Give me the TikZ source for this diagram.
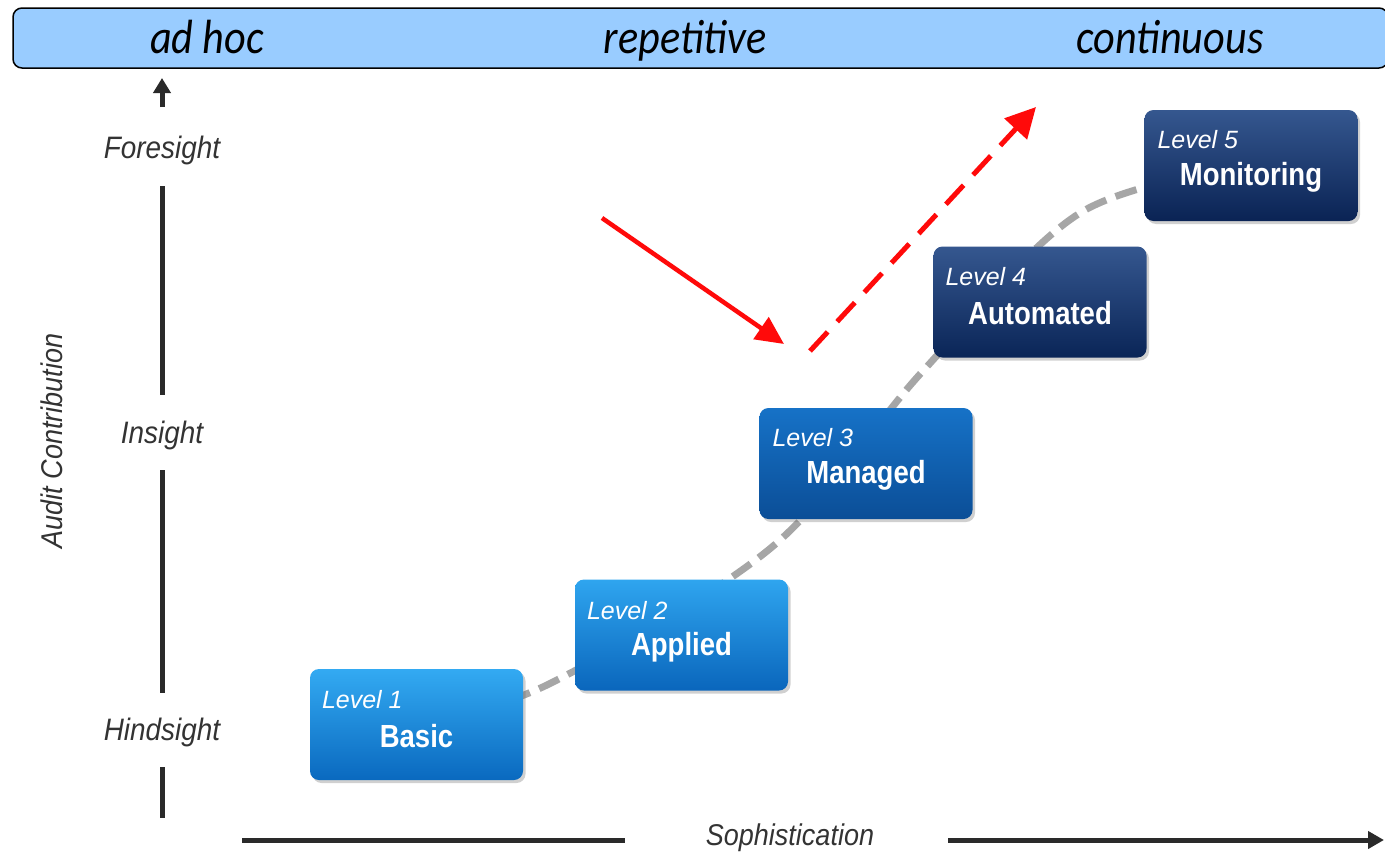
\documentclass[tikz,border=0pt]{standalone}
\usepackage{fontspec}
\setmainfont{Liberation Sans}
\newfontfamily\bannerfont[FakeStretch=0.88]{Carlito}
\newfontfamily\axisfont[FakeStretch=0.9]{Liberation Sans}
\newfontfamily\namefont[FakeStretch=0.86]{Liberation Sans}
\usetikzlibrary{arrows.meta,shadows,calc}
\pgfdeclarelayer{bg}
\pgfsetlayers{bg,main}
\definecolor{bannerblue}{HTML}{99CCFF}
\definecolor{axisgray}{HTML}{2A2A2A}
\definecolor{labelgray}{HTML}{333333}
\definecolor{curvegray}{HTML}{A6A6A6}
\definecolor{arrowred}{HTML}{FF0A0A}
\definecolor{lAtop}{HTML}{33AAF2}\definecolor{lAbot}{HTML}{0A69BF}
\definecolor{lBtop}{HTML}{2FA5EF}\definecolor{lBbot}{HTML}{0A66BC}
\definecolor{lCtop}{HTML}{1672C7}\definecolor{lCbot}{HTML}{0B4E97}
\definecolor{lDtop}{HTML}{35578F}\definecolor{lDbot}{HTML}{0A2557}
\definecolor{lEtop}{HTML}{35578F}\definecolor{lEbot}{HTML}{0A2354}
\tikzset{
  levelbox/.style={rounded corners=9pt, minimum width=213pt, minimum height=111pt,
    inner sep=0pt, draw=none, drop shadow={shadow xshift=2.5pt, shadow yshift=-3pt, opacity=0.3, fill=black!60}},
  lvltext/.style={anchor=west, inner sep=0pt, text=white, font=\fontsize{25}{30}\selectfont\itshape},
  nametext/.style={inner sep=0pt, text=white, font=\fontsize{32}{38}\selectfont\namefont\bfseries},
  axislabel/.style={inner sep=0pt, text=labelgray, font=\fontsize{31}{37}\selectfont\axisfont\itshape},
  bannertext/.style={inner sep=0pt, anchor=base, text=black, font=\fontsize{48}{56}\selectfont\bannerfont\itshape},
  axisline/.style={draw=axisgray, line width=5pt},
  greycurve/.style={draw=curvegray, line width=7pt, dash pattern=on 22pt off 10pt},
  redsolid/.style={draw=arrowred, line width=4.5pt, -{Triangle[length=28pt,width=26pt]}},
  reddash/.style={draw=arrowred, line width=5pt, dash pattern=on 26pt off 14pt, -{Triangle[length=30pt,width=30pt]}}
}
\begin{document}
\begin{tikzpicture}[x=1pt,y=-1pt]
\useasboundingbox (0,0) rectangle (1385,857);

% banner
\node[draw=black, line width=1.5pt, fill=bannerblue, rounded corners=9pt, minimum width=1375pt, minimum height=60pt, inner sep=0pt] (banner) at (700.5,38) {};
\node[bannertext] (adhoc) at (207,53) {ad hoc};
\node[bannertext] (repet) at (685,53) {repetitive};
\node[bannertext] (contin) at (1170,53) {continuous};

% vertical axis
\node[axislabel] (fore) at (162,150) {Foresight};
\node[axislabel] (ins) at (162,435) {Insight};
\node[axislabel] (hind) at (162,732) {Hindsight};
\node[axislabel, font=\fontsize{30}{36}\selectfont\axisfont\itshape, rotate=90] (audit) at (52,441) {Audit Contribution};
\coordinate (vtop) at (162,78);
\coordinate (vtopstart) at (162,107);
\coordinate (v1a) at (162,186);
\coordinate (v1b) at (162,395);
\coordinate (v2a) at (162,470);
\coordinate (v2b) at (162,693);
\coordinate (v3a) at (162,767);
\coordinate (v3b) at (162,818);
\draw[axisline, -{Triangle[length=15pt,width=17pt]}] (vtopstart) -- (vtop);
\draw[axisline] (v1a) -- (v1b);
\draw[axisline] (v2a) -- (v2b);
\draw[axisline] (v3a) -- (v3b);

% horizontal axis
\node[axislabel, font=\fontsize{30}{36}\selectfont\axisfont\itshape] (soph) at (790,838) {Sophistication};
\coordinate (h1a) at (242,840);
\coordinate (h1b) at (625,840);
\coordinate (h2a) at (948,840);
\coordinate (h2b) at (1384,840);
\draw[axisline] (h1a) -- (h1b);
\draw[axisline, -{Triangle[length=16pt,width=17pt]}] (h2a) -- (h2b);

% level boxes
\node[levelbox, top color=lAtop, bottom color=lAbot] (b1) at (416.5,724.5) {};
\node[levelbox, top color=lBtop, bottom color=lBbot] (b2) at (681.5,635) {};
\node[levelbox, top color=lCtop, bottom color=lCbot] (b3) at (866,463.5) {};
\node[levelbox, top color=lDtop, bottom color=lDbot] (b4) at (1040,302) {};
\node[levelbox, top color=lEtop, bottom color=lEbot] (b5) at (1251,165.5) {};

\node[lvltext] (b1l) at ($(b1.north west)+(12,31)$) {Level 1};
\node[lvltext] (b2l) at ($(b2.north west)+(12,31)$) {Level 2};
\node[lvltext] (b3l) at ($(b3.north west)+(13,30)$) {Level 3};
\node[lvltext] (b4l) at ($(b4.north west)+(12,30)$) {Level 4};
\node[lvltext] (b5l) at ($(b5.north west)+(13,30)$) {Level 5};

\node[nametext] (b1n) at ($(b1.center)+(0,12)$) {Basic};
\node[nametext] (b2n) at ($(b2.center)+(0,12)$) {Applied};
\node[nametext] (b3n) at ($(b3.center)+(0,12)$) {Managed};
\node[nametext] (b4n) at ($(b4.center)+(0,11)$) {Automated};
\node[nametext] (b5n) at ($(b5.center)+(0,12)$) {Monitoring};

% background and grey dashed progression curve behind the boxes
\begin{pgfonlayer}{bg}
\fill[white] (0,0) rectangle (1385,857);
\draw[greycurve] plot[smooth, tension=0.55] coordinates {(b1.center) (549,684) (772,547) (922,372) (1080,213) (b5.center)};
\end{pgfonlayer}

% red arrows
\coordinate (rs1) at (602,218);
\coordinate (rs2) at (784,344);
\coordinate (rd1) at (810,351);
\coordinate (rd2) at (1036,107);
\draw[redsolid] (rs1) -- (rs2);
\draw[reddash] (rd1) -- (rd2);
\end{tikzpicture}
\end{document}
